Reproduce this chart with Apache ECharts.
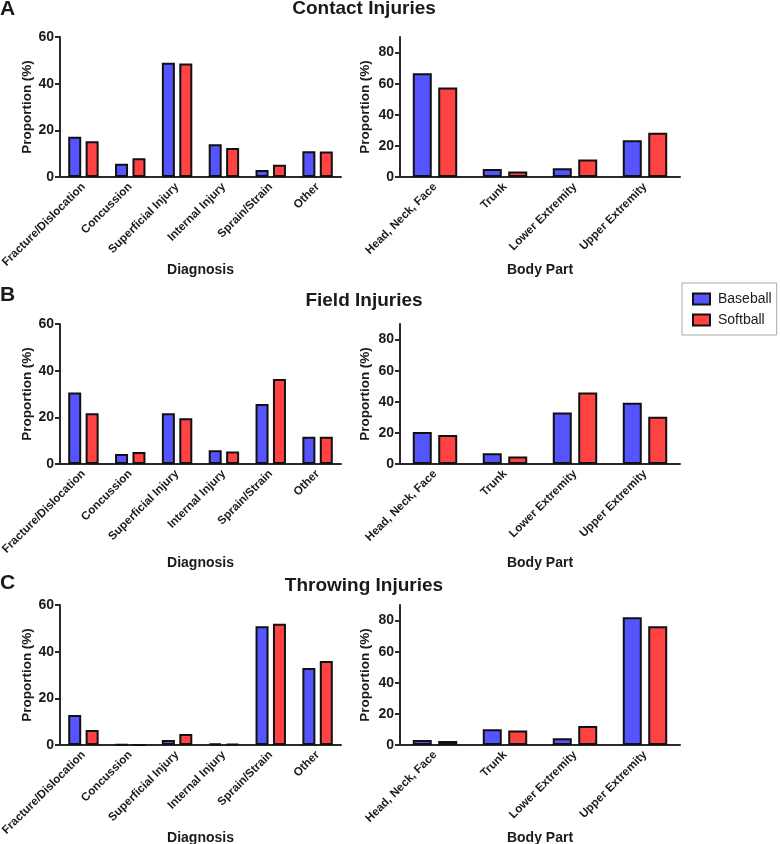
<!DOCTYPE html>
<html>
<head>
<meta charset="utf-8">
<script src="https://cdn.jsdelivr.net/npm/echarts@6/dist/echarts.min.js"></script>
<style>
html,body{margin:0;padding:0;background:#fff;}
#chart{width:780px;height:844px;}
</style>
</head>
<body>
<div id="chart"></div>
<script>
// ---- Data ----
const diagnosisCats = ['Fracture/Dislocation', 'Concussion', 'Superficial Injury', 'Internal Injury', 'Sprain/Strain', 'Other'];
const bodyCats = ['Head, Neck, Face', 'Trunk', 'Lower Extremity', 'Upper Extremity'];
const seriesNames = ['Baseball', 'Softball'];
const panelTitles = ['Contact Injuries', 'Field Injuries', 'Throwing Injuries'];
const panelLetters = ['A', 'B', 'C'];
const leftTicks = [0, 20, 40, 60];
const rightTicks = [0, 20, 40, 60, 80];

const contactDiagBaseball = [17.3, 5.7, 49.0, 14.0, 3.0, 11.0];
const contactDiagSoftball = [15.3, 8.0, 48.6, 12.4, 5.3, 10.9];
const contactBodyBaseball = [66.7, 5.1, 5.6, 23.6];
const contactBodySoftball = [57.5, 3.6, 11.2, 28.5];

const fieldDiagBaseball = [30.6, 4.3, 21.7, 5.9, 25.7, 11.7];
const fieldDiagSoftball = [21.7, 5.1, 19.6, 5.4, 36.4, 11.7];
const fieldBodyBaseball = [20.6, 6.9, 33.1, 39.4];
const fieldBodySoftball = [18.7, 4.9, 46.0, 30.3];

const throwDiagBaseball = [12.9, 0.3, 2.1, 0.6, 50.9, 33.0];
const throwDiagSoftball = [6.4, 0, 4.7, 0.4, 52.0, 36.0];
const throwBodyBaseball = [3.2, 10.1, 4.3, 82.2];
const throwBodySoftball = [2.6, 9.4, 12.2, 76.4];

// ---- Layout / style ----
const FONT = "'Liberation Sans', Arial, Helvetica, sans-serif";
const BLUE = '#5555ff';
const RED = '#ff4242';
const AXIS = '#2a2a2a';
const TXT = '#1a1a1a';

const panelTops = [37, 324, 605];
const nameGaps = [86, 92, 86];
const titleY = [9, 301, 586];
const letterY = [9, 295, 583];

const diagData = [[contactDiagBaseball, contactDiagSoftball], [fieldDiagBaseball, fieldDiagSoftball], [throwDiagBaseball, throwDiagSoftball]];
const bodyData = [[contactBodyBaseball, contactBodySoftball], [fieldBodyBaseball, fieldBodySoftball], [throwBodyBaseball, throwBodySoftball]];

const grids = [], xAxes = [], yAxes = [], series = [], graphics = [];

function makeX(idx, cats, name, gap) {
  return {
    type: 'category', gridIndex: idx, data: cats, name: name,
    nameLocation: 'middle', nameGap: gap, nameMoveOverlap: false,
    nameTextStyle: { fontFamily: FONT, fontWeight: 'bold', fontSize: 14, color: TXT },
    axisLine: { lineStyle: { color: AXIS, width: 2 } },
    axisTick: { alignWithLabel: true, length: 4, lineStyle: { color: AXIS, width: 2 } },
    axisLabel: { rotate: 45, interval: 0, margin: 8, fontFamily: FONT, fontWeight: 'bold', fontSize: 11.6, color: TXT },
    splitLine: { show: false }
  };
}
function makeY(idx, max, ticks, gap) {
  return {
    type: 'value', gridIndex: idx, min: 0, max: max, interval: 20,
    name: 'Proportion (%)', nameLocation: 'middle', nameGap: gap, nameMoveOverlap: false,
    nameTextStyle: { fontFamily: FONT, fontWeight: 'bold', fontSize: 13.5, color: TXT },
    axisLine: { show: true, lineStyle: { color: AXIS, width: 2 } },
    axisTick: { show: true, length: 5, customValues: ticks, lineStyle: { color: AXIS, width: 2 } },
    axisLabel: { customValues: ticks, margin: 6, fontFamily: FONT, fontWeight: 'bold', fontSize: 14, color: TXT },
    splitLine: { show: false }
  };
}
function addBars(idx, data, bw) {
  seriesNames.forEach((n, k) => {
    series.push({
      type: 'bar', name: n, xAxisIndex: idx, yAxisIndex: idx,
      data: data[k], barWidth: bw, barGap: '34%',
      itemStyle: { color: k === 0 ? BLUE : RED, borderColor: '#111', borderWidth: 2 },
      emphasis: { disabled: true }, animation: false
    });
  });
}

for (let p = 0; p < 3; p++) {
  const li = p * 2, ri = p * 2 + 1;
  grids.push({ left: 60, top: panelTops[p], width: 281, height: 140, containLabel: false, outerBoundsMode: 'none' });
  grids.push({ left: 400, top: panelTops[p], width: 280, height: 140, containLabel: false, outerBoundsMode: 'none' });
  xAxes.push(makeX(li, diagnosisCats, 'Diagnosis', nameGaps[p]));
  xAxes.push(makeX(ri, bodyCats, 'Body Part', nameGaps[p]));
  yAxes.push(makeY(li, 60, leftTicks, 26));
  yAxes.push(makeY(ri, 90, rightTicks, 28));
  addBars(li, diagData[p], 13);
  addBars(ri, bodyData[p], 19);
  graphics.push({
    type: 'text', x: 364, y: titleY[p], silent: true,
    style: { text: panelTitles[p], font: 'bold 19px ' + FONT, fill: TXT, align: 'center', verticalAlign: 'middle' }
  });
  graphics.push({
    type: 'text', x: 0, y: letterY[p], silent: true,
    style: { text: panelLetters[p], font: 'bold 21px ' + FONT, fill: TXT, align: 'left', verticalAlign: 'middle' }
  });
}

const chart = echarts.init(document.getElementById('chart'), null, { renderer: 'canvas' });
chart.setOption({
  animation: false,
  backgroundColor: '#fff',
  grid: grids,
  xAxis: xAxes,
  yAxis: yAxes,
  series: series,
  graphic: graphics,
  legend: {
    data: seriesNames,
    orient: 'vertical', left: 682, top: 283,
    itemWidth: 17, itemHeight: 11, itemGap: 7,
    padding: [9, 5, 8, 10],
    backgroundColor: '#fff', borderColor: '#a8a8a8', borderWidth: 1,
    icon: 'rect',
    itemStyle: { borderColor: '#111', borderWidth: 2 },
    textStyle: { fontFamily: FONT, fontSize: 14, color: TXT, padding: [0, 0, 0, 3] },
    selectedMode: false
  }
});
</script>
</body>
</html>
